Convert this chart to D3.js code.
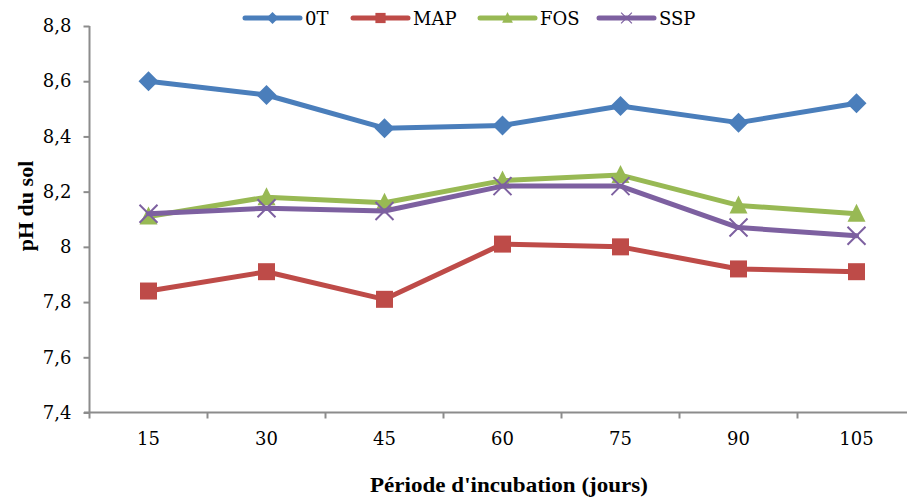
<!DOCTYPE html>
<html>
<head>
<meta charset="utf-8">
<script src="https://cdn.jsdelivr.net/npm/d3@7"></script>
<style>
  html, body { margin: 0; padding: 0; background: #fff; }
  svg { display: block; }
</style>
</head>
<body>
<svg id="chart" width="907" height="502"></svg>
<script>
// Incubation periods (days) and soil pH per treatment
const periods = ["15", "30", "45", "60", "75", "90", "105"];
const ph0T  = [8.60, 8.55, 8.43, 8.44, 8.51, 8.45, 8.52];
const phMAP = [7.84, 7.91, 7.81, 8.01, 8.00, 7.92, 7.91];
const phFOS = [8.11, 8.18, 8.16, 8.24, 8.26, 8.15, 8.12];
const phSSP = [8.12, 8.14, 8.13, 8.22, 8.22, 8.07, 8.04];
const yTicks = [7.4, 7.6, 7.8, 8.0, 8.2, 8.4, 8.6, 8.8];

const series = [
  { name: "0T",  values: ph0T,  color: "#4A7EBB", marker: "diamond" },
  { name: "MAP", values: phMAP, color: "#BE4B48", marker: "square" },
  { name: "FOS", values: phFOS, color: "#98B954", marker: "triangle" },
  { name: "SSP", values: phSSP, color: "#7D60A0", marker: "cross" }
];

const svg = d3.select("#chart");
const axisColor = "#8c8c8c";
const tickFont = "'DejaVu Serif', serif";
const titleFont = "'Liberation Serif', 'Times New Roman', serif";

const x = d3.scaleBand().domain(periods).range([89.5, 915.5]).padding(0);
const y = d3.scaleLinear().domain([7.4, 8.8]).range([412.5, 26]);
const cx = d => x(d) + x.bandwidth() / 2;
const fmt = v => String(+v.toFixed(1)).replace(".", ",");

// Y axis
const yAxis = svg.append("g")
  .attr("transform", "translate(89.5,0)")
  .call(d3.axisLeft(y).tickValues(yTicks).tickFormat(fmt).tickSize(6).tickPadding(12));
yAxis.select(".domain").attr("stroke", axisColor).attr("stroke-width", 2).attr("d", `M0,${y(8.8)}V${y(7.4)}`);
yAxis.selectAll(".tick line").attr("stroke", axisColor).attr("stroke-width", 2);
yAxis.selectAll(".tick text").attr("fill", "#000").style("font-family", tickFont).style("font-size", "18px");

// X axis: labels centred in each category, ticks on category boundaries
const xAxis = svg.append("g")
  .attr("transform", "translate(0,412.5)")
  .call(d3.axisBottom(x).tickSize(0).tickPadding(20));
xAxis.select(".domain").attr("stroke", axisColor).attr("stroke-width", 2).attr("d", "M84,0H907");
xAxis.selectAll(".tick text").attr("fill", "#000").style("font-family", tickFont).style("font-size", "18px");
const edges = periods.map(p => x(p)).concat([x(periods[periods.length - 1]) + x.bandwidth()]);
xAxis.selectAll(".edge").data(edges).enter().append("line")
  .attr("class", "edge")
  .attr("x1", d => d).attr("x2", d => d)
  .attr("y1", 0).attr("y2", 6)
  .attr("stroke", axisColor).attr("stroke-width", 2);

// Axis titles
svg.append("text")
  .attr("x", 509).attr("y", 492)
  .attr("text-anchor", "middle")
  .attr("textLength", 278).attr("lengthAdjust", "spacingAndGlyphs")
  .style("font-family", titleFont).style("font-weight", "bold").style("font-size", "22px")
  .text("Période d'incubation (jours)");
svg.append("text")
  .attr("transform", "translate(33,206) rotate(-90)")
  .attr("text-anchor", "middle")
  .style("font-family", titleFont).style("font-weight", "bold").style("font-size", "22px")
  .text("pH du sol");

// Marker drawing
function drawMarker(g, type, color) {
  if (type === "diamond") {
    g.append("path").attr("d", "M0,-10L10,0L0,10L-10,0Z").attr("fill", color);
  } else if (type === "square") {
    g.append("rect").attr("x", -8.5).attr("y", -8.5).attr("width", 17).attr("height", 17).attr("fill", color);
  } else if (type === "triangle") {
    g.append("path").attr("d", "M0,-10L9,8L-9,8Z").attr("fill", color);
  } else if (type === "cross") {
    g.append("path").attr("d", "M-9,-9L9,9M-9,9L9,-9").attr("stroke", color).attr("stroke-width", 2).attr("fill", "none");
  }
}

const line = d3.line().x((d, i) => cx(periods[i])).y(d => y(d));

series.forEach(s => {
  const g = svg.append("g");
  g.append("path")
    .datum(s.values)
    .attr("d", line)
    .attr("fill", "none")
    .attr("stroke", s.color)
    .attr("stroke-width", 5)
    .attr("stroke-linejoin", "round")
    .attr("stroke-linecap", "round");
  s.values.forEach((v, i) => {
    const m = g.append("g").attr("transform", `translate(${cx(periods[i])},${y(v)})`);
    drawMarker(m, s.marker, s.color);
  });
});

// Legend
const legendX = [245, 353, 480, 599];
const legend = svg.append("g");
series.forEach((s, i) => {
  const lg = legend.append("g").attr("transform", `translate(${legendX[i]},18)`);
  lg.append("line").attr("x1", 0).attr("x2", 55).attr("y1", 0).attr("y2", 0)
    .attr("stroke", s.color).attr("stroke-width", 5).attr("stroke-linecap", "round");
  const m = lg.append("g").attr("transform", "translate(27.5,0) scale(0.6)");
  drawMarker(m, s.marker, s.color);
  lg.append("text").attr("x", 60).attr("y", 7)
    .style("font-family", tickFont).style("font-size", "18px")
    .text(s.name);
});
</script>
</body>
</html>
